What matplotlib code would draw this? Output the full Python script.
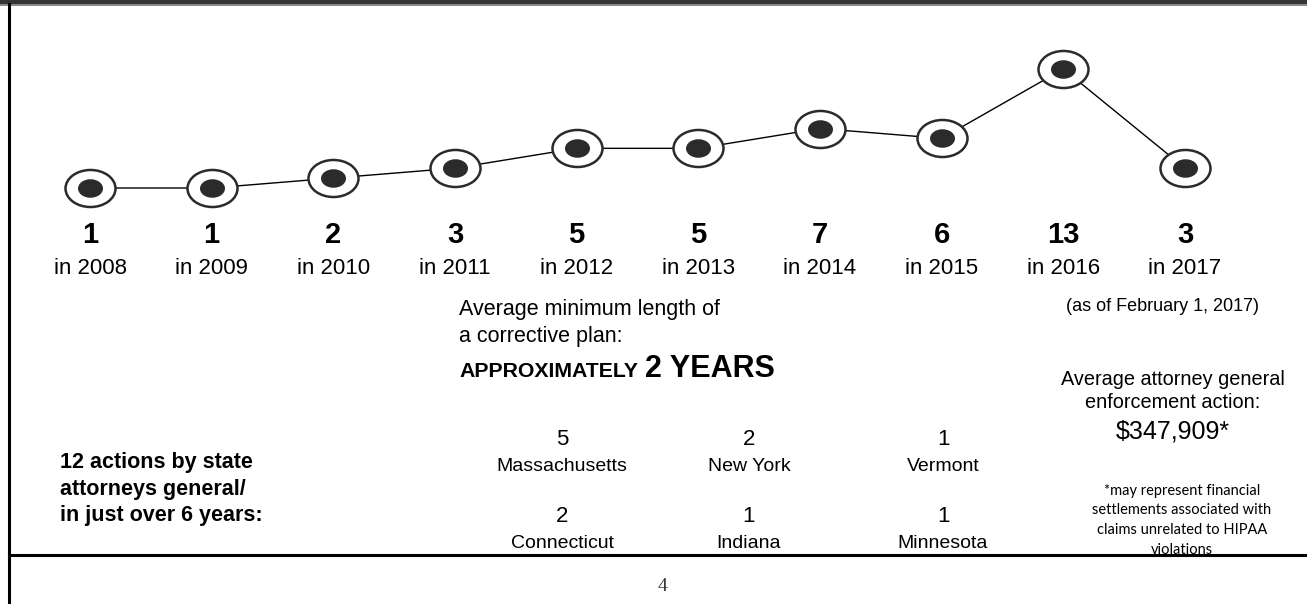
import matplotlib
matplotlib.use('Agg')
import matplotlib.pyplot as plt
from matplotlib.path import Path
from matplotlib.patches import Rectangle
from matplotlib.lines import Line2D
from matplotlib.transforms import Affine2D, blended_transform_factory

# data
years = [2008, 2009, 2010, 2011, 2012, 2013, 2014, 2015, 2016, 2017]
actions = [1, 1, 2, 3, 5, 5, 7, 6, 13, 3]
states = ['Massachusetts', 'New York', 'Vermont', 'Connecticut', 'Indiana', 'Minnesota']
state_actions = [5, 2, 1, 2, 1, 1]
footnote = ['*may represent financial', 'settlements associated with',
            'claims unrelated to HIPAA', 'violations']

plt.rcParams['font.family'] = ['Liberation Sans', 'DejaVu Sans']

W, H = 1307, 604
fig = plt.figure(figsize=(W / 100, H / 100), dpi=100)


def fx(px):
    return px / W


def fy(py):
    return 1 - py / H


########################################################################################################################
# timeline of actions per year
ax = fig.add_axes([fx(90), fy(188), fx(1185) - fx(90), fy(69) - fy(188)])
ax.set_xlim(2008, 2017)
ax.set_ylim(1, 13)
ax.axis('off')

ellipse = Path.unit_circle().transformed(Affine2D().scale(1.35, 1.0))
ax.plot(years, actions, color='black', lw=1.0, zorder=1, clip_on=False)
ax.plot(years, actions, ls='none', marker=ellipse, ms=36, mfc='white',
        mec='#2b2b2b', mew=1.8, zorder=2, clip_on=False)
ax.plot(years, actions, ls='none', marker=ellipse, ms=18, mfc='#2b2b2b',
        mec='#2b2b2b', mew=0, zorder=3, clip_on=False)

trans = blended_transform_factory(ax.transData, fig.transFigure)
for yr, n in zip(years, actions):
    ax.text(yr, fy(243), str(n), transform=trans, ha='center', va='baseline',
            fontsize=21, fontweight='bold')
    ax.text(yr, fy(274), f'in {yr}', transform=trans, ha='center', va='baseline',
            fontsize=16)

fig.text(fx(1163), fy(311), '(as of February 1, 2017)', ha='center', va='baseline', fontsize=13)

# corrective plan
fig.text(fx(459), fy(315), 'Average minimum length of', ha='left', va='baseline', fontsize=15.5)
fig.text(fx(459), fy(342), 'a corrective plan:', ha='left', va='baseline', fontsize=15.5)
t = fig.text(fx(459), fy(377), 'APPROXIMATELY', ha='left', va='baseline',
             fontsize=15.3, fontweight='bold')
fig.canvas.draw()
x1 = t.get_window_extent().x1
fig.text((x1 + 7) / W, fy(377), '2 YEARS', ha='left', va='baseline',
         fontsize=22, fontweight='bold')

# state attorneys general
for i, line in enumerate(['12 actions by state', 'attorneys general/', 'in just over 6 years:']):
    fig.text(fx(60), fy(468 + 26.5 * i), line, ha='left', va='baseline',
             fontsize=15.5, fontweight='bold')

col_x = [562, 749, 943]
row_y = [445, 522]
for i, (st, n) in enumerate(zip(states, state_actions)):
    cx = col_x[i % 3]
    ry = row_y[i // 3]
    fig.text(fx(cx), fy(ry), str(n), ha='center', va='baseline', fontsize=16)
    fig.text(fx(cx), fy(ry + 26), st, ha='center', va='baseline', fontsize=14)

# average enforcement action
fig.text(fx(1173), fy(385), 'Average attorney general', ha='center', va='baseline', fontsize=14.3)
fig.text(fx(1173), fy(408), 'enforcement action:', ha='center', va='baseline', fontsize=14.3)
fig.text(fx(1173), fy(438), '$347,909*', ha='center', va='baseline', fontsize=18)
for i, line in enumerate(footnote):
    fig.text(fx(1182), fy(495 + 19.5 * i), line, ha='center', va='baseline',
             fontsize=10.5, family=['Lato', 'DejaVu Sans'])

# page frame
fig.add_artist(Rectangle((0, 0), 1, fy(556), transform=fig.transFigure,
                         facecolor='white', edgecolor='none', zorder=4))
fig.add_artist(Rectangle((0, fy(4)), 1, 4 / H, transform=fig.transFigure,
                         facecolor='#353535', edgecolor='none', zorder=5))
fig.add_artist(Rectangle((0, fy(6)), 1, 2 / H, transform=fig.transFigure,
                         facecolor='#8a8a8a', edgecolor='none', zorder=5))
fig.add_artist(Line2D([fx(9), fx(9)], [0, fy(4)], transform=fig.transFigure,
                      color='black', lw=2.2, zorder=5))
fig.add_artist(Line2D([fx(9), 1], [fy(555), fy(555)], transform=fig.transFigure,
                      color='black', lw=2.2, zorder=5))
fig.text(fx(662), fy(591), '4', ha='center', va='baseline', fontsize=14,
         family='Liberation Serif', color='#333333', zorder=6)

fig.savefig('out.png', dpi=100)
